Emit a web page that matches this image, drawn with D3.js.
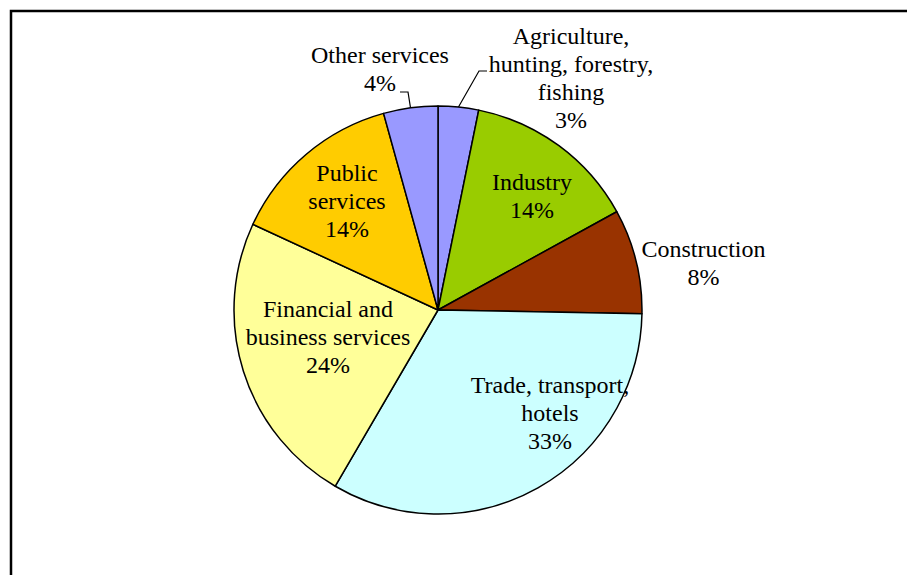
<!DOCTYPE html>
<html>
<head>
<meta charset="utf-8">
<script src="https://cdn.jsdelivr.net/npm/d3@7"></script>
<style>
  html, body { margin: 0; padding: 0; background: #fff; }
  svg { display: block; }
  text { font-family: "Liberation Serif", "Times New Roman", serif; font-size: 24px; fill: #000; }
</style>
</head>
<body>
<svg id="chart" width="907" height="575"></svg>
<script>
// Share of value added by sector, clockwise from 12 o'clock
const categories = [
  "Agriculture, hunting, forestry, fishing",
  "Industry",
  "Construction",
  "Trade, transport, hotels",
  "Financial and business services",
  "Public services",
  "Other services"
];
const shares = [3.2, 13.8, 8.3, 33.1, 23.5, 13.8, 4.3];
const labelLines = [
  ["Agriculture,", "hunting, forestry,", "fishing"],
  ["Industry"],
  ["Construction"],
  ["Trade, transport,", "hotels"],
  ["Financial and", "business services"],
  ["Public", "services"],
  ["Other services"]
];
const sliceColors = ["#9999FF", "#99CC00", "#993300", "#CCFFFF", "#FFFF99", "#FFCC00", "#9999FF"];

// Layout: first-line baseline of each label relative to the pie centre, and leader elbows
const labelOffsets = [[133, -266], [94, -120], [265.5, -53], [112, 83], [-110, 7], [-91, -129], [-58, -247]];
const leaders = {
  0: [[479, 71], [487, 71]],
  6: [[408, 92], [400, 92]]
};

const W = 907, H = 575;
const cx = 438, cy = 310, R = 204, lineStep = 28;

const svg = d3.select("#chart");

// Chart frame (extends past the right and bottom edges)
svg.append("rect")
  .attr("x", 11).attr("y", 11)
  .attr("width", W + 20).attr("height", H + 20)
  .attr("fill", "none").attr("stroke", "#000").attr("stroke-width", 2.5);

const data = categories.map((c, i) => ({ name: c, value: shares[i], lines: labelLines[i], color: sliceColors[i], i }));

const pie = d3.pie().value(d => d.value).sort(null);
const arcs = pie(data);
const arc = d3.arc().innerRadius(0).outerRadius(R);

const g = svg.append("g").attr("transform", `translate(${cx},${cy})`);

g.selectAll("path.slice")
  .data(arcs)
  .join("path")
  .attr("class", "slice")
  .attr("d", arc)
  .attr("fill", d => d.data.color)
  .attr("stroke", "#000")
  .attr("stroke-width", 1.5)
  .attr("stroke-linejoin", "round");

// Leader lines for the small slices at the top
arcs.forEach(a => {
  const pts = leaders[a.index];
  if (!pts) return;
  const mid = (a.startAngle + a.endAngle) / 2;
  const edge = [cx + R * Math.sin(mid), cy - R * Math.cos(mid)];
  svg.append("polyline")
    .attr("points", [edge, ...pts].map(p => p.join(",")).join(" "))
    .attr("fill", "none").attr("stroke", "#000").attr("stroke-width", 1.2);
});

// Labels: category lines followed by the rounded percentage
arcs.forEach(a => {
  const [dx, dy] = labelOffsets[a.index];
  const lines = a.data.lines.concat([Math.round(a.data.value) + "%"]);
  const t = svg.append("text")
    .attr("text-anchor", "middle")
    .attr("x", cx + dx).attr("y", cy + dy);
  lines.forEach((ln, k) => {
    t.append("tspan")
      .attr("x", cx + dx)
      .attr("dy", k === 0 ? 0 : lineStep)
      .text(ln);
  });
});
</script>
</body>
</html>
